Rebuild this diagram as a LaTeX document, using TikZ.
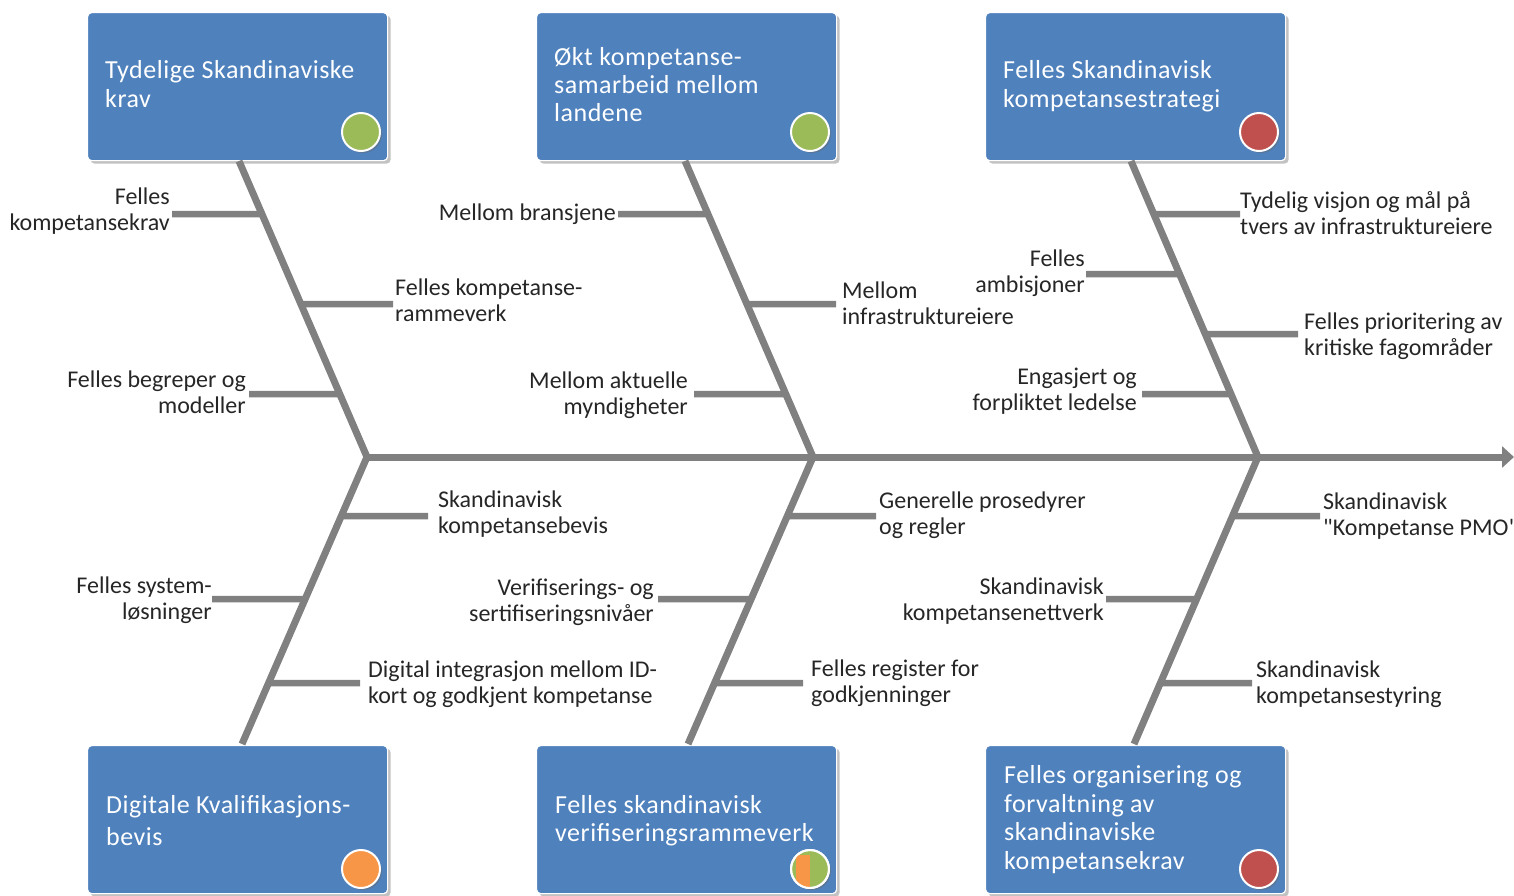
\documentclass[tikz,border=0pt]{standalone}
\usepackage{fontspec}
\setmainfont{Carlito}
\usetikzlibrary{shadows,calc,arrows.meta}
\definecolor{boxblue}{HTML}{4F81BD}
\definecolor{bonegray}{HTML}{808080}
\definecolor{cgreen}{HTML}{9BBB59}
\definecolor{cred}{HTML}{C0504D}
\definecolor{corange}{HTML}{F79646}
\definecolor{labtext}{HTML}{262626}
\begin{document}
\begin{tikzpicture}[x=1pt,y=-1pt,
  catbox/.style={draw=white, line width=1.2pt, fill=boxblue, rounded corners=4pt,
    minimum width=300pt, minimum height=148pt, inner sep=0pt, anchor=north west,
    drop shadow={opacity=0.4, shadow xshift=3pt, shadow yshift=-3pt, fill=black!60}},
  boxtext/.style={text=white, font=\fontsize{26}{28.5}\selectfont\addfontfeature{LetterSpace=2}, align=left, anchor=base west, inner sep=0pt},
  dot/.style={circle, draw=white, line width=2pt, minimum size=38pt, inner sep=0pt,
    drop shadow={opacity=0.4, shadow xshift=2pt, shadow yshift=-2pt, fill=black!60}},
  bonestyle/.style={draw=bonegray, line width=7pt},
  ribstyle/.style={draw=bonegray, line width=6.5pt},
  lab/.style={text=labtext, font=\fontsize{24}{26}\selectfont, inner sep=0pt},
  labl/.style={lab, align=right, anchor=base east},
  labr/.style={lab, align=left, anchor=base west}
]
\useasboundingbox (0,0) rectangle (1514,895);

% ---------- category boxes ----------
\node[catbox] (B1) at (87,12) {};
\node[catbox] (B2) at (536,12) {};
\node[catbox] (B3) at (985,12) {};
\node[catbox] (B4) at (87,745) {};
\node[catbox] (B5) at (536,745) {};
\node[catbox] (B6) at (985,745) {};

% (base anchor = baseline of the last line)
\node[boxtext] (T1) at (105,107) {Tydelige Skandinaviske\\krav};
\node[boxtext, font=\fontsize{26}{28}\selectfont\addfontfeature{LetterSpace=2}] (T2) at (554,121) {Økt kompetanse-\\samarbeid mellom\\landene};
\node[boxtext] (T3) at (1003,107) {Felles Skandinavisk\\kompetansestrategi};
\node[boxtext, font=\fontsize{26}{32}\selectfont\addfontfeature{LetterSpace=2}] (T4) at (106,845) {Digitale Kvalifikasjons-\\bevis};
\node[boxtext, font=\fontsize{26}{28}\selectfont\addfontfeature{LetterSpace=2}] (T5) at (555,841) {Felles skandinavisk\\verifiseringsrammeverk};
\node[boxtext] (T6) at (1004,869) {Felles organisering og\\forvaltning av\\skandinaviske\\kompetansekrav};

% ---------- status dots ----------
\node[dot, fill=cgreen] (D1) at (361,132) {};
\node[dot, fill=cgreen] (D2) at (810,132) {};
\node[dot, fill=cred] (D3) at (1259,132) {};
\node[dot, fill=corange] (D4) at (361,869) {};
\node[dot, fill=cgreen] (D5) at (810,869) {};
\node[dot, fill=cred] (D6) at (1259,869) {};
\begin{scope}
  \clip (D5.center) circle[radius=19];
  \fill[corange] (D5.north west) rectangle (D5.south);
\end{scope}
\draw[white, line width=2pt] (D5.center) circle[radius=19];

% ---------- spine ----------
\coordinate (J1) at (367,457);
\coordinate (J2) at (813,457);
\coordinate (J3) at (1258,457);
\coordinate (TIP) at (1514,457);
\draw[bonestyle, -{Triangle[length=12pt,width=21pt]}] (J1) -- (TIP);

% ---------- main bones ----------
\coordinate (U1) at (239,161);
\coordinate (U2) at (685,161);
\coordinate (U3) at (1131,161);
\coordinate (L1) at (242,744);
\coordinate (L2) at (688,744);
\coordinate (L3) at (1134,744);
\draw[bonestyle, line join=miter] (U1) -- (J1) -- (L1);
\draw[bonestyle, line join=miter] (U2) -- (J2) -- (L2);
\draw[bonestyle, line join=miter] (U3) -- (J3) -- (L3);

% ---------- ribs: bone 1 top ----------
\coordinate (a1) at ($(U1)!{(214-161)/(457-161)}!(J1)$);
\coordinate (a2) at ($(U1)!{(304-161)/(457-161)}!(J1)$);
\coordinate (a3) at ($(U1)!{(394-161)/(457-161)}!(J1)$);
\coordinate (e1) at (172,214);
\coordinate (e2) at (393,304);
\coordinate (e3) at (249,394);
\draw[ribstyle] (a1) -- (e1);
\draw[ribstyle] (a2) -- (e2);
\draw[ribstyle] (a3) -- (e3);
\node[labl] (n1) at (170,230) {Felles\\kompetansekrav};
\node[labr] (n2) at (395,321) {Felles kompetanse-\\rammeverk};
\node[labl] (n3) at (246,413) {Felles begreper og\\modeller};

% ---------- ribs: bone 2 top ----------
\coordinate (a4) at ($(U2)!{(214-161)/(457-161)}!(J2)$);
\coordinate (a5) at ($(U2)!{(304-161)/(457-161)}!(J2)$);
\coordinate (a6) at ($(U2)!{(394-161)/(457-161)}!(J2)$);
\coordinate (e4) at (618,214);
\coordinate (e5) at (836,304);
\coordinate (e6) at (694,394);
\draw[ribstyle] (a4) -- (e4);
\draw[ribstyle] (a5) -- (e5);
\draw[ribstyle] (a6) -- (e6);
\node[labl] (n4) at (616,220) {Mellom bransjene};
\node[labr] (n5) at (842,324) {Mellom\\infrastruktureiere};
\node[labl] (n6) at (688,414) {Mellom aktuelle\\myndigheter};

% ---------- ribs: bone 3 top ----------
\coordinate (a7) at ($(U3)!{(214-161)/(457-161)}!(J3)$);
\coordinate (a8) at ($(U3)!{(274-161)/(457-161)}!(J3)$);
\coordinate (a9) at ($(U3)!{(334-161)/(457-161)}!(J3)$);
\coordinate (a10) at ($(U3)!{(394-161)/(457-161)}!(J3)$);
\coordinate (e7) at (1240,214);
\coordinate (e8) at (1086,274);
\coordinate (e9) at (1298,334);
\coordinate (e10) at (1142,394);
\draw[ribstyle] (a7) -- (e7);
\draw[ribstyle] (a8) -- (e8);
\draw[ribstyle] (a9) -- (e9);
\draw[ribstyle] (a10) -- (e10);
\node[labr] (n7) at (1240,234) {Tydelig visjon og mål på\\tvers av infrastruktureiere};
\node[labl] (n8) at (1085,292) {Felles\\ambisjoner};
\node[labr] (n9) at (1304,355) {Felles prioritering av\\kritiske fagområder};
\node[labl] (n10) at (1137,410) {Engasjert og\\forpliktet ledelse};

% ---------- ribs: bone 1 bottom ----------
\coordinate (b1) at ($(J1)!{(516-457)/(744-457)}!(L1)$);
\coordinate (b2) at ($(J1)!{(599-457)/(744-457)}!(L1)$);
\coordinate (b3) at ($(J1)!{(683-457)/(744-457)}!(L1)$);
\coordinate (f1) at (428,516);
\coordinate (f2) at (212,599);
\coordinate (f3) at (360,683);
\draw[ribstyle] (b1) -- (f1);
\draw[ribstyle] (b2) -- (f2);
\draw[ribstyle] (b3) -- (f3);
\node[labr] (m1) at (438,533) {Skandinavisk\\kompetansebevis};
\node[labl] (m2) at (212,619) {Felles system-\\løsninger};
\node[labr] (m3) at (368,703) {Digital integrasjon mellom ID-\\kort og godkjent kompetanse};

% ---------- ribs: bone 2 bottom ----------
\coordinate (b4) at ($(J2)!{(516-457)/(744-457)}!(L2)$);
\coordinate (b5) at ($(J2)!{(599-457)/(744-457)}!(L2)$);
\coordinate (b6) at ($(J2)!{(683-457)/(744-457)}!(L2)$);
\coordinate (f4) at (876,516);
\coordinate (f5) at (658,599);
\coordinate (f6) at (803,683);
\draw[ribstyle] (b4) -- (f4);
\draw[ribstyle] (b5) -- (f5);
\draw[ribstyle] (b6) -- (f6);
\node[labr] (m4) at (879,534) {Generelle prosedyrer\\og regler};
\node[labl] (m5) at (654,621) {Verifiserings- og\\sertifiseringsnivåer};
\node[labr] (m6) at (811,702) {Felles register for\\godkjenninger};

% ---------- ribs: bone 3 bottom ----------
\coordinate (b7) at ($(J3)!{(516-457)/(744-457)}!(L3)$);
\coordinate (b8) at ($(J3)!{(599-457)/(744-457)}!(L3)$);
\coordinate (b9) at ($(J3)!{(683-457)/(744-457)}!(L3)$);
\coordinate (f7) at (1320,516);
\coordinate (f8) at (1106,599);
\coordinate (f9) at (1252,683);
\draw[ribstyle] (b7) -- (f7);
\draw[ribstyle] (b8) -- (f8);
\draw[ribstyle] (b9) -- (f9);
\node[labr] (m7) at (1323,535) {Skandinavisk\\\textquotedbl Kompetanse PMO\textquotedbl};
\node[labl] (m8) at (1104,620) {Skandinavisk\\kompetansenettverk};
\node[labr] (m9) at (1256,703) {Skandinavisk\\kompetansestyring};
\end{tikzpicture}
\end{document}
